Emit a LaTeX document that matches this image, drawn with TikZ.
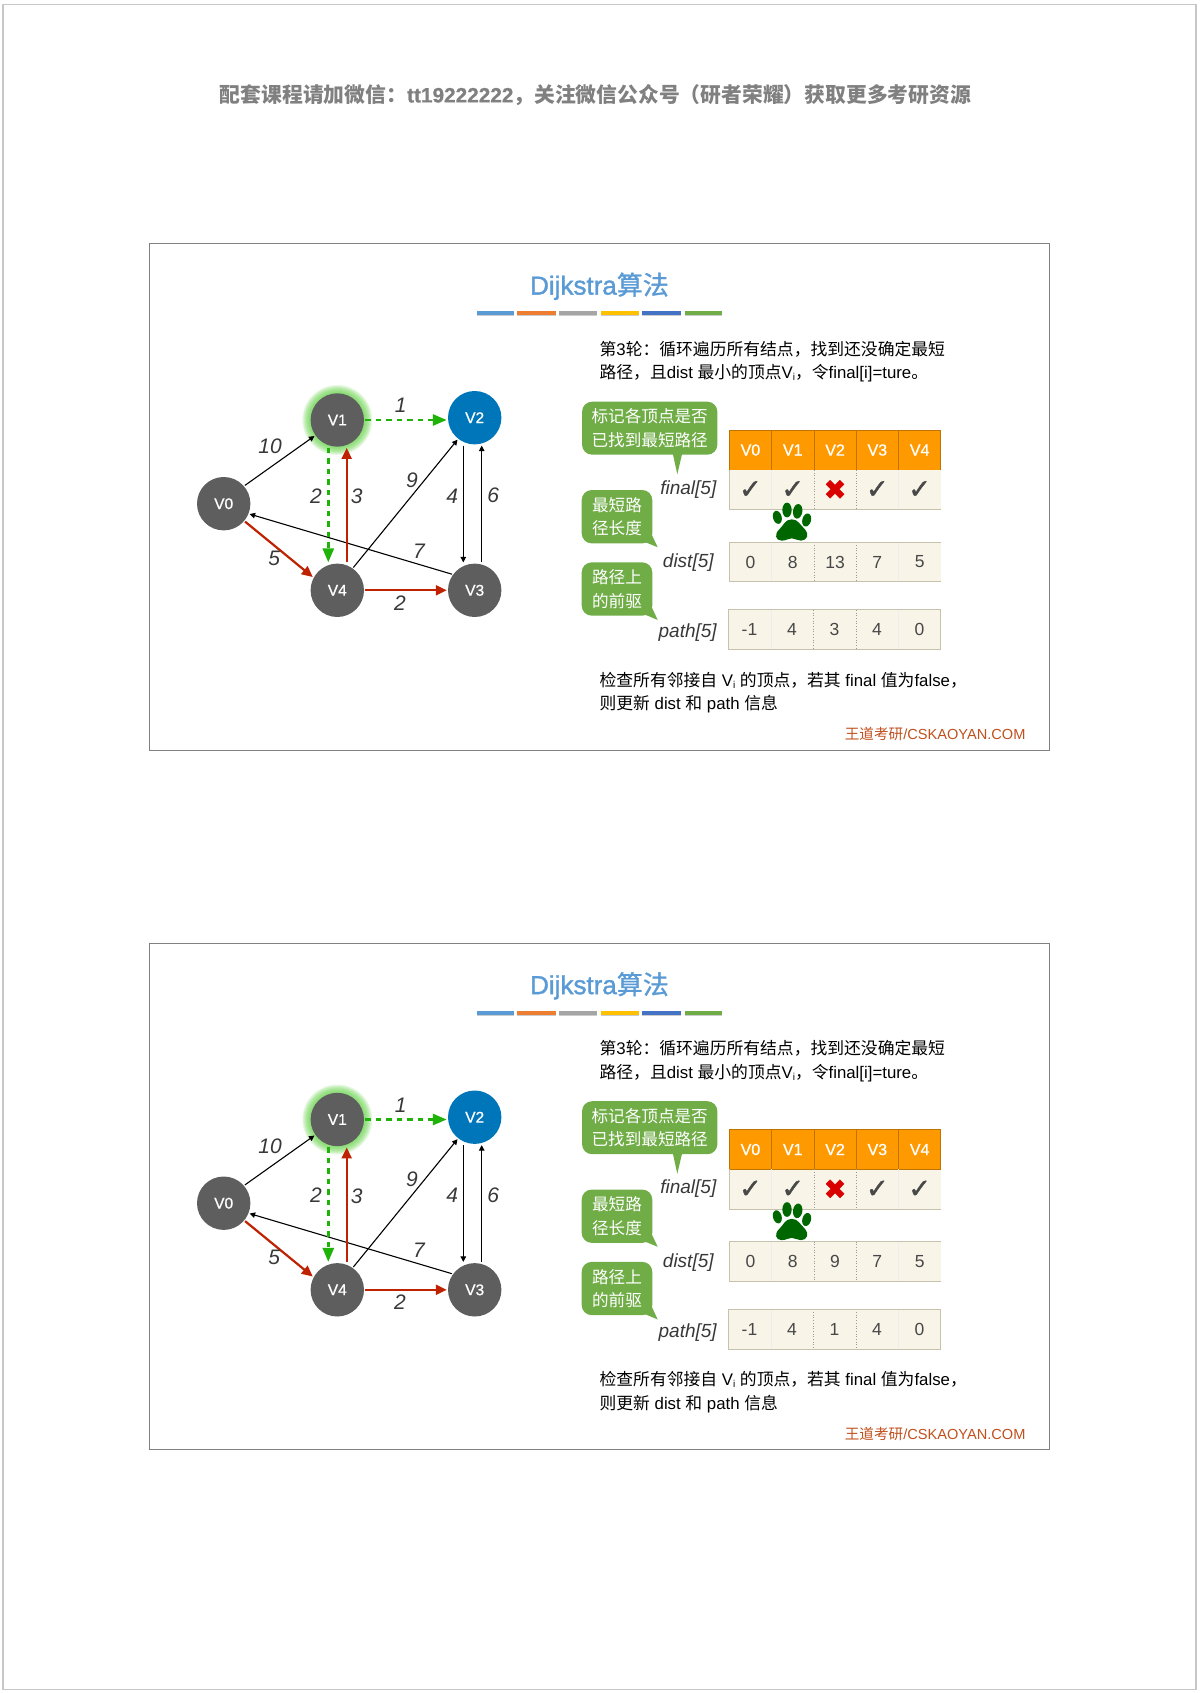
\documentclass[tikz,border=0pt]{standalone}
\usepackage{fontspec}
\setmainfont{Liberation Sans}
\newfontfamily\cjk{Noto Sans CJK SC}
\newfontfamily\cjkmed[FakeBold=1.2]{Noto Sans CJK SC}
\newfontfamily\medfont[FakeBold=0.8]{Liberation Sans}
\newfontfamily\titlefont[FakeBold=1.5]{Liberation Sans}
\newfontfamily\symfont[FakeBold=1.5]{DejaVu Sans}
\newcommand{\zh}[1]{{\cjk #1}}
\usetikzlibrary{arrows.meta, positioning}
\definecolor{nodegray}{HTML}{5E5E5E}
\definecolor{nodeblue}{HTML}{0076BA}
\definecolor{greenedge}{HTML}{1FB30A}
\definecolor{rededge}{HTML}{BE2200}
\definecolor{titleblue}{HTML}{5B9BD5}
\definecolor{bubblegreen}{HTML}{70AD47}
\definecolor{headorange}{HTML}{FF9900}
\definecolor{cellcream}{HTML}{F8F5E8}
\definecolor{celledge}{HTML}{C6C2AE}
\definecolor{markgray}{HTML}{484848}
\definecolor{pawgreen}{HTML}{006600}
\definecolor{brandred}{HTML}{C0501E}
\definecolor{glowgreen}{HTML}{5FD040}
\tikzset{
  vertex/.style={circle, fill=nodegray, text=white, inner sep=0pt, minimum size=53.4pt,
    font=\medfont\fontsize{15.5}{18}\selectfont},
  elabel/.style={inner sep=0pt, text=black!78, font=\fontsize{21}{24}\selectfont\itshape},
  plainedge/.style={-{Triangle[length=5.5pt,width=5.5pt]}, line width=1.1pt, shorten >=1pt, shorten <=1pt},
  rededgeline/.style={-{Triangle[length=11pt,width=10pt]}, line width=2.2pt, rededge, shorten >=1pt, shorten <=1pt},
  greenedgeline/.style={-{Triangle[length=14pt,width=11pt]}, line width=2.7pt, greenedge,
    dash pattern=on 5.5pt off 5pt, shorten >=1pt, shorten <=1pt},
  bodytext/.style={anchor=west, align=left, inner sep=0pt, font=\fontsize{16.8}{23.6}\selectfont},
  bubble/.style={fill=bubblegreen, text=white, rounded corners=10pt, inner sep=0pt, align=center,
    font=\fontsize{16.6}{23.6}\selectfont},
  headcell/.style={fill=headorange, draw=black!25!headorange, line width=.8pt, text=white, inner sep=0pt,
    minimum width=42.3pt, minimum height=40pt, font=\medfont\fontsize{16}{18}\selectfont},
  datacell/.style={fill=cellcream, inner sep=0pt, minimum width=42.3pt, minimum height=39.4pt,
    text=black!72, font=\fontsize{17.5}{20}\selectfont},
  rowname/.style={inner sep=0pt, text=black!78, font=\fontsize{19}{22}\selectfont\itshape},
  markcell/.style={inner sep=0pt, font=\symfont\fontsize{27}{30}\selectfont},
  celldiv/.style={black!40, line width=.7pt, dotted},
  faintdiv/.style={black!7, line width=.7pt},
  rowedge/.style={celledge, line width=1pt},
}
\begin{document}
\begin{tikzpicture}[x=1pt, y=-1pt]
  \useasboundingbox (0,0) rectangle (1200,1693);
  % page frame and top line
  \draw[black!22, line width=1.6pt] (3,4.5) rectangle (1196,1689.5);
  \node[inner sep=0pt, text=black!50, font=\fontsize{20.8}{24}\selectfont\cjk\bfseries] (banner) at (595.5,95)
    {配套课程请加微信：{\medfont tt19222222}，关注微信公众号（研者荣耀）获取更多考研资源};
  % one slide, twice
  \foreach \s/\yy/\dd/\pp in {a/0/13/3, b/699.5/9/1} {
  \begin{scope}[shift={(0,\yy)}]
    \draw[black!50, line width=1pt] (149.5,244) rectangle (1049.3,750);
    % title and colour bars
    \node[inner sep=0pt, text=titleblue, font=\titlefont\fontsize{26}{30}\selectfont] (title\s) at (599.5,286.3) {Dijkstra{\cjkmed 算法}};
    \foreach \xa/\xb/\barcol in {477/513.8/5B9BD5, 516.8/555.6/ED7D31, 559.2/597.4/A5A5A5,
        601/638.8/FFC000, 641.8/680.6/4472C4, 685/722.4/70AD47} {
      \definecolor{barcol}{HTML}{\barcol}
      \fill[black!20] (\xa,312.5) rectangle (\xb,316.5);
      \fill[barcol] (\xa,311) rectangle (\xb,315.5);
    }
    % glow behind V1
    \foreach \r in {35,34,33,32,31,30,29,28}
      \fill[glowgreen, opacity=.14] (337.3,420) circle (\r);
    % graph
    \node[vertex] (v0\s) at (223.7,503.7) {V0};
    \node[vertex] (v1\s) at (337.3,420) {V1};
    \node[vertex, fill=nodeblue] (v2\s) at (474.7,417.7) {V2};
    \node[vertex] (v3\s) at (474.7,590.3) {V3};
    \node[vertex] (v4\s) at (337.3,590.3) {V4};
    \draw[plainedge] (v0\s.41) -- (v1\s.215);
    \draw[plainedge] (v3\s.144) -- (v0\s.-22);
    \draw[plainedge] (v4\s.55) -- (v2\s.232);
    \draw[plainedge] ([xshift=-11.4pt]v2\s.south) -- ([xshift=-11.4pt]v3\s.north);
    \draw[plainedge] ([xshift=7pt]v3\s.north) -- ([xshift=7pt]v2\s.south);
    \draw[rededgeline] (v0\s.-40) -- (v4\s.152);
    \draw[rededgeline] ([xshift=9.4pt]v4\s.north) -- ([xshift=9.4pt]v1\s.south);
    \draw[rededgeline] (v4\s) -- (v3\s);
    \draw[greenedgeline] (v1\s) -- (v1\s -| v2\s.west);
    \draw[greenedgeline] ([xshift=-9pt]v1\s.south) -- ([xshift=-9pt]v4\s.north);
    % edge weights
    \node[elabel] (w01\s) at (270,446.7) {10};
    \node[elabel] (w12\s) at (400.7,405.7) {1};
    \node[elabel] (w14\s) at (316,495.7) {2};
    \node[elabel] (w41\s) at (356.7,496.7) {3};
    \node[elabel] (w42\s) at (412,480) {9};
    \node[elabel] (w23\s) at (452.3,496) {4};
    \node[elabel] (w32\s) at (493.3,495.7) {6};
    \node[elabel] (w30\s) at (419,551) {7};
    \node[elabel] (w04\s) at (274.3,558.3) {5};
    \node[elabel] (w43\s) at (400,602.7) {2};
    % text above and below the table
    \node[bodytext] (intro\s) at (599.4,361.8) {\zh{第}3\zh{轮：循环遍历所有结点，找到还没确定最短}\\
      \zh{路径，且}dist \zh{最小的顶点}V{\fontsize{10}{10}\selectfont\raisebox{-2pt}{i}}\zh{，令}final[i]=ture\zh{。}};
    \node[bodytext] (check\s) at (599.4,692.6) {\zh{检查所有邻接自} V{\fontsize{10}{10}\selectfont\raisebox{-2pt}{i}} \zh{的顶点，若其} final \zh{值为}false\zh{，}\\
      \zh{则更新} dist \zh{和} path \zh{信息}};
    \node[inner sep=0pt, anchor=east, text=brandred, font=\fontsize{14.6}{17}\selectfont] (brand\s) at (1025.7,734)
      {\zh{王道考研}/CSKAOYAN.COM};
    % speech bubbles
    \node[bubble, minimum width=135.3pt, minimum height=53pt] (tipfinal\s) at (649.7,428.2)
      {\zh{标记各顶点是否}\\\zh{已找到最短路径}};
    \fill[bubblegreen] (672,450) -- (677.3,474.3) -- (683,450) -- cycle;
    \node[bubble, minimum width=70.6pt, minimum height=53.3pt] (tipdist\s) at (617,516.7)
      {\zh{最短路}\\\zh{径长度}};
    \fill[bubblegreen] (640,540) -- (657.7,547.3) -- (650.5,532) -- cycle;
    \node[bubble, minimum width=70.6pt, minimum height=53.3pt] (tippath\s) at (617,589)
      {\zh{路径上}\\\zh{的前驱}};
    \fill[bubblegreen] (640,612.5) -- (657.7,620) -- (650.5,604.5) -- cycle;
    % row names
    \node[rowname] (namefinal\s) at (688.3,489.3) {final[5]};
    \node[rowname] (namedist\s) at (688.3,562.7) {dist[5]};
    \node[rowname] (namepath\s) at (687.7,633) {path[5]};
    % table
    \foreach \i/\v/\mk/\mkcol in {0/V0/✓/markgray, 1/V1/✓/markgray, 2/V2/✖/red!85!black, 3/V3/✓/markgray, 4/V4/✓/markgray} {
      \node[headcell] (head\i\s) at (750.45+42.3*\i,450) {\v};
      \node[datacell] (final\i\s) at (750.45+42.3*\i,489.7) {};
      \node[markcell, text=\mkcol] (mark\i\s) at (final\i\s) {\mk};
    }
    \foreach \i/\v in {0/0, 1/8, 2/\dd, 3/7, 4/5}
      \node[datacell] (dist\i\s) at (750.45+42.3*\i,562) {\v};
    \foreach \i/\v in {0/-1, 1/4, 2/\pp, 3/4, 4/0}
      \node[datacell] (path\i\s) at (749.5+42.5*\i,629.7) {\v};
    \foreach \i/\divstyle in {0/faintdiv, 1/celldiv, 2/celldiv, 3/faintdiv} {
      \draw[\divstyle] (final\i\s.north east) -- (final\i\s.south east);
      \draw[\divstyle] (dist\i\s.north east) -- (dist\i\s.south east);
      \draw[\divstyle] (path\i\s.north east) -- (path\i\s.south east);
    }
    \draw[rowedge] (final0\s.north west) -- (final0\s.south west) -- (final4\s.south east);
    \draw[rowedge] (dist0\s.north east) -- (dist0\s.north west) -- (dist0\s.south west) -- (dist4\s.south east);
    \draw[rowedge] (dist0\s.north east) -- (dist4\s.north east);
    \draw[rowedge] (path0\s.north west) rectangle (path4\s.south east);
    % paw
    \begin{scope}[shift={(720,470)}, scale=1/3, pawgreen]
      \fill[rotate around={15:(172,142)}] (172,142) ellipse (13 and 20);
      \fill (201,120) ellipse (14 and 22);
      \fill[rotate around={-8:(233,124)}] (233,124) ellipse (14 and 22);
      \fill[rotate around={-15:(260,150)}] (260,150) ellipse (13 and 20);
      \fill (215,148) .. controls (235,148) and (240,165) .. (255,178)
        .. controls (268,192) and (262,212) .. (243,212)
        .. controls (232,212) and (225,205) .. (215,205)
        .. controls (205,205) and (198,212) .. (185,212)
        .. controls (166,212) and (162,192) .. (178,178)
        .. controls (190,167) and (195,148) .. (215,148) -- cycle;
    \end{scope}
  \end{scope}
  }
\end{tikzpicture}
\end{document}
